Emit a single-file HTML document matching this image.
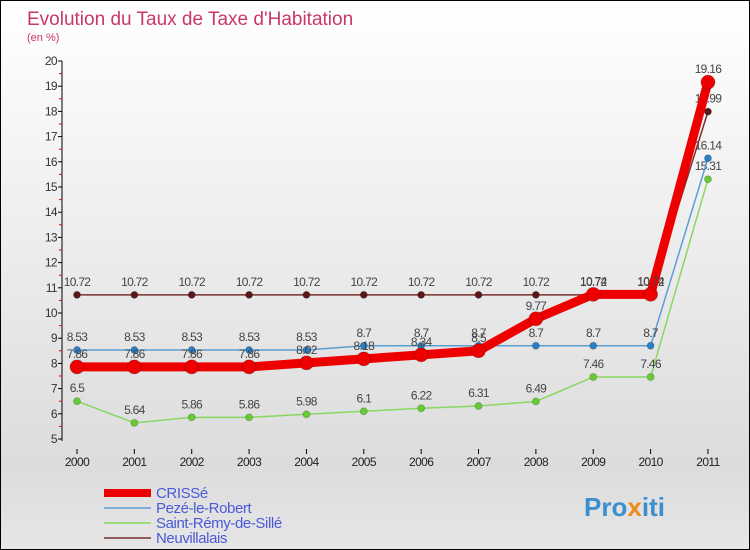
<!DOCTYPE html>
<html><head><meta charset="utf-8"><style>
body{margin:0}
#c{width:750px;height:550px;position:relative;box-sizing:border-box;border:1px solid #000;background:linear-gradient(#fff,#dcdcdc 85%,#e6e6e6);font-family:"Liberation Sans",sans-serif;overflow:hidden}
</style></head><body>
<div id="c">
<svg id="s" width="750" height="550" style="position:absolute;left:0;top:0">
<text x="26" y="24" font-size="19" fill="#c8376a">Evolution du Taux de Taxe d'Habitation</text>
<text x="26" y="40" font-size="11" fill="#c8376a">(en %)</text>
<text x="583" y="515" font-size="26" font-weight="bold" fill="#3a8fd0">Pro<tspan fill="#f08a1c">x</tspan>iti</text>
</svg>
</div>
<script>
const years=[2000,2001,2002,2003,2004,2005,2006,2007,2008,2009,2010,2011];
const crisse=[7.86,7.86,7.86,7.86,8.02,8.18,8.34,8.5,9.77,10.74,10.74,19.16];
const peze=[8.53,8.53,8.53,8.53,8.53,8.7,8.7,8.7,8.7,8.7,8.7,16.14];
const remy=[6.5,5.64,5.86,5.86,5.98,6.1,6.22,6.31,6.49,7.46,7.46,15.31];
const neuv=[10.72,10.72,10.72,10.72,10.72,10.72,10.72,10.72,10.72,10.72,10.72,17.99];
const yTicks=[5,6,7,8,9,10,11,12,13,14,15,16,17,18,19,20];
const names=["CRISSé","Pezé-le-Robert","Saint-Rémy-de-Sillé","Neuvillalais"];
const NS="http://www.w3.org/2000/svg",s=document.getElementById('s');
const X=i=>76+i*57.36, Y=v=>438-(v-5)*25.2;
function el(t,a){const e=document.createElementNS(NS,t);for(const k in a)e.setAttribute(k,a[k]);s.appendChild(e);return e;}
let ax=el('line',{x1:61,y1:60,x2:61,y2:440,stroke:'#000'});


yTicks.forEach(v=>{const y=Y(v);
 let t=el('line',{x1:57,x2:61,y1:y,y2:y,stroke:'#000'});
 
 
 if(v<20){let h=el('line',{x1:58,x2:61,y1:y-12.6,y2:y-12.6,stroke:'#e00'});
 
 }
 let l=el('text',{x:56,y:y+4,'font-size':12,'text-anchor':'end',fill:'#333','letter-spacing':'-0.6'});l.textContent=v;
 
 });
years.forEach((yr,i)=>{let t=el('line',{x1:X(i),x2:X(i),y1:448,y2:453,stroke:'#000'});
 
 
 let l=el('text',{x:X(i),y:465,'font-size':12,'text-anchor':'middle',fill:'#222','letter-spacing':'-0.6'});l.textContent=yr;
 
 });
const series=[[remy,'#88d860','#6c3',1.5,3.5,'saint-remy'],[peze,'#5a9fd4','#2a7fc4',1.5,3.5,'peze'],[neuv,'#7a3030','#5a1818',1.5,3.5,'neuvillalais'],[crisse,'#e00','#e00',9,7,'crisse']];
series.forEach(([d,c,f,w,r,n])=>{
 let p=el('polyline',{points:d.map((v,i)=>X(i)+','+Y(v)).join(' '),fill:'none',stroke:c,'stroke-width':w});
 
 
 d.forEach((v,i)=>{let m=el('circle',{cx:X(i),cy:Y(v),r:r,fill:f,stroke:'rgba(0,0,0,.2)'});
  
  
  let l=el('text',{x:X(i),y:Y(v)-9,'font-size':12,'text-anchor':'middle',fill:'#444','letter-spacing':'-0.7'});l.textContent=v;
  
  });
});
const lc=['#e00','#5a9fd4','#88d860','#7a3030'],lw=[8,1.5,1.5,1.5];
names.forEach((n,i)=>{const y=492+i*15;
 let l=el('line',{x1:103,x2:150,y1:y,y2:y,stroke:lc[i],'stroke-width':lw[i]});
 
 
 let t=el('text',{x:155,y:y+5,'font-size':15,fill:'#4a5ad8','letter-spacing':'-0.4'});t.textContent=n;
 
 });
</script>
</body></html>
